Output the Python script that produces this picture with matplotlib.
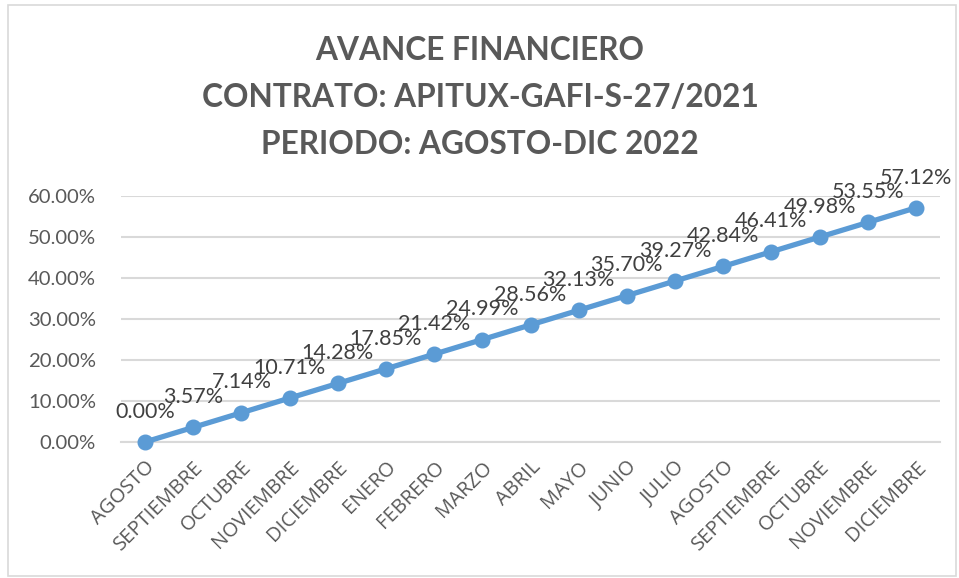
import matplotlib
matplotlib.use("Agg")
import matplotlib.pyplot as plt
from matplotlib.patches import Rectangle
from matplotlib.ticker import FuncFormatter

categories = ["AGOSTO", "SEPTIEMBRE", "OCTUBRE", "NOVIEMBRE", "DICIEMBRE", "ENERO",
              "FEBRERO", "MARZO", "ABRIL", "MAYO", "JUNIO", "JULIO", "AGOSTO",
              "SEPTIEMBRE", "OCTUBRE", "NOVIEMBRE", "DICIEMBRE"]
values = [0.0, 3.57, 7.14, 10.71, 14.28, 17.85, 21.42, 24.99, 28.56, 32.13,
          35.70, 39.27, 42.84, 46.41, 49.98, 53.55, 57.12]
yticks = [0, 10, 20, 30, 40, 50, 60]
title_lines = ["AVANCE FINANCIERO", "CONTRATO: APITUX-GAFI-S-27/2021", "PERIODO: AGOSTO-DIC 2022"]

plt.rcParams['font.family'] = ['Lato', 'DejaVu Sans']

fig = plt.figure(figsize=(9.59, 5.78), dpi=100)
fig.patches.append(Rectangle((8/959, 2/578), 948/959, 571/578, transform=fig.transFigure,
                             fill=False, edgecolor="#D9D9D9", linewidth=1.2))

ax = fig.add_axes([121/959, 1-442/578, 819/959, 246/578])
x = list(range(len(values)))
ax.plot(x, values, color="#5B9BD5", linewidth=3.8, marker="o", markersize=10.5,
        markerfacecolor="#5B9BD5", markeredgecolor="#5B9BD5", zorder=3, clip_on=False)

for xi, v in zip(x, values):
    ax.annotate(f"{v:.2f}%", (xi, v), xytext=(0, 17.5), textcoords="offset points",
                ha="center", va="baseline", fontsize=15.5, color="#404040", zorder=4)

ax.set_xlim(-0.5, len(values) - 0.5)
ax.set_ylim(0, 60)
ax.set_yticks(yticks)
ax.yaxis.set_major_formatter(FuncFormatter(lambda v, p: f"{v:.2f}%"))
ax.set_xticks(x)
ax.set_xticklabels(categories, rotation=45, ha="right", rotation_mode="anchor",
                   fontsize=14.5, color="#595959", family=["Open Sans", "DejaVu Sans"])
ax.tick_params(axis="y", labelsize=14.6, labelcolor="#595959", length=0, pad=18)
ax.tick_params(axis="x", length=0, pad=11)
ax.grid(axis="y", color="#D9D9D9", linewidth=1.5)
ax.set_axisbelow(True)
for s in ["top", "right", "left"]:
    ax.spines[s].set_visible(False)
ax.spines["bottom"].set_color("#D9D9D9")
ax.spines["bottom"].set_linewidth(1.5)

for i, line in enumerate(title_lines):
    fig.text(480/959, 1 - (51 + i * 46.5)/578, line, ha="center", va="center",
             fontsize=22.8, fontweight="bold", color="#595959")

fig.savefig("out.png", dpi=100)
